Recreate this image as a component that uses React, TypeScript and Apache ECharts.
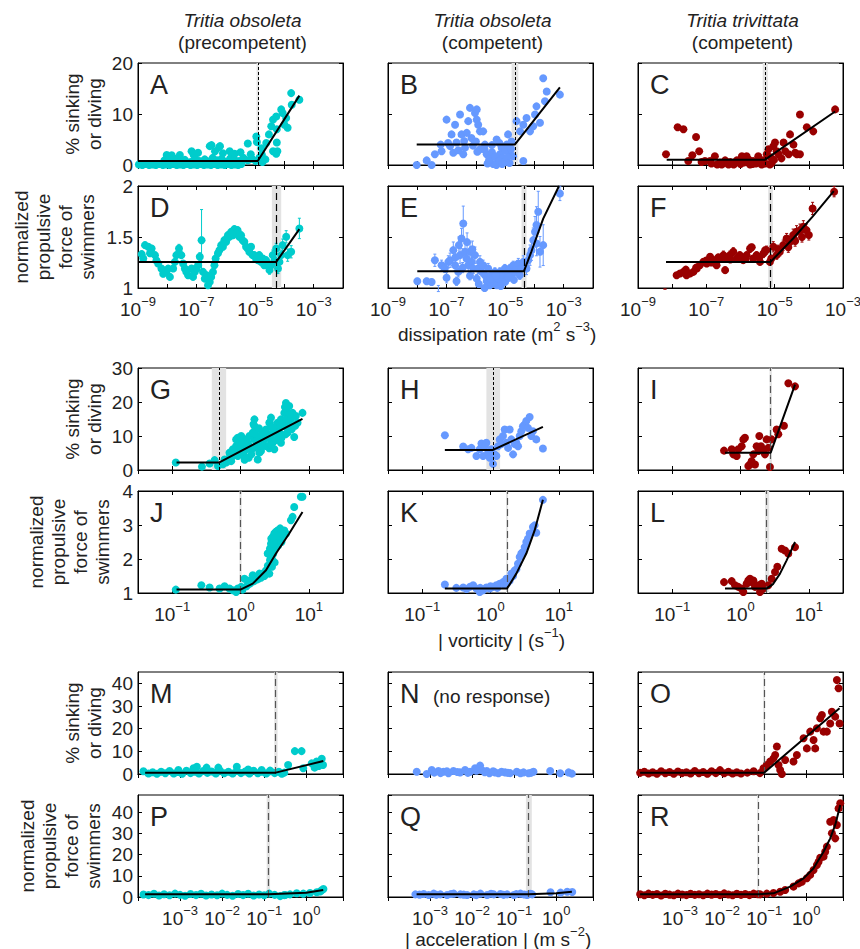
import React, { useEffect, useRef } from 'react';
import * as echarts from 'echarts';

// ---------------- text ----------------
const speciesNames = ['Tritia obsoleta', 'Tritia obsoleta', 'Tritia trivittata'];
const stageNames = ['(precompetent)', '(competent)', '(competent)'];
const panelLetters = ['A', 'B', 'C', 'D', 'E', 'F', 'G', 'H', 'I', 'J', 'K', 'L', 'M', 'N', 'O', 'P', 'Q', 'R'];
const sinkTitle = '% sinking\nor diving';
const forceTitle = 'normalized\npropulsive\nforce of\nswimmers';
const dissTickExp = [-9, -7, -5, -3];
const vortTickExp = [-1, 0, 1];
const accTickExp = [-3, -2, -1, 0];

// ---------------- data: [log10(x), y] or [log10(x), y, errorHalfWidth] ----------------
// Row 1: dissipation rate vs % sinking or diving
const ptsA = [
  [-8.97, 0.1], [-8.85, 0], [-8.74, 0.2], [-8.62, 0], [-8.5, 0.1], [-8.39, 0], [-8.27, 0.2], [-8.15, 0], [-8.03, 0.1], [-7.92, 0], [-7.8, 0.2], [-7.68, 0], [-7.57, 0.1], [-7.45, 0], [-7.33, 0.2], [-7.21, 0], [-7.1, 0.1], [-6.98, 0], [-6.86, 0.2], [-6.75, 0], [-6.63, 0.1], [-6.51, 0], [-6.4, 0.2], [-6.28, 0], [-6.16, 0.1], [-6.04, 0], [-5.93, 0.2], [-5.81, 0], [-5.69, 0.1], [-5.58, 0], [-5.47, 0.2],
  [-8.1, 0.9], [-7.9, 0.7], [-7.75, 1.2], [-7.55, 0.8], [-7.4, 1.0], [-7.2, 0.6], [-7.05, 1.3], [-6.9, 0.8], [-6.72, 1.1], [-6.6, 0.7], [-6.45, 1.4], [-6.3, 0.9], [-6.15, 1.2], [-6.0, 0.7], [-5.85, 1.3], [-5.7, 1.0], [-5.55, 0.8], [-5.4, 1.4], [-5.25, 0.9], [-5.1, 1.2], [-4.98, 0.8], [-4.85, 1.5], [-4.75, 0.6], [-4.65, 1.1],
  [-8.02, 1.95], [-7.85, 1.9], [-7.57, 1.95], [-7.17, 2.7], [-7.1, 2.0], [-6.95, 2.4], [-6.55, 3.7], [-6.49, 3.9], [-6.37, 2.7], [-6.23, 3.5], [-6.2, 3.7], [-6.1, 2.3], [-5.87, 2.7], [-5.7, 2.2], [-5.5, 2.5], [-5.25, 4.2], [-5.15, 2.1], [-4.96, 5.6], [-4.94, 4.5], [-4.79, 3.3], [-4.77, 2.0], [-4.62, 4.3], [-4.53, 6.0], [-4.45, 7.6], [-4.39, 8.9], [-4.39, 2.7], [-4.28, 9.5], [-4.28, 2.2], [-4.26, 4.4], [-4.26, 7.0], [-4.24, 2.7], [-4.11, 10.9], [-4.06, 10.2], [-4.0, 7.9], [-3.94, 9.2], [-3.89, 7.3], [-3.77, 14.1], [-3.75, 11.8], [-3.49, 12.8],
];
const fitA = [[-9, 0.8], [-4.91, 0.8], [-3.49, 13.6]];
const thrA = [-4.95, -4.91, -4.87];

const ptsB = [
  [-8.02, 0], [-7.68, 0.9], [-7.51, 0], [-7.4, 2.1], [-7.17, 2.7], [-7.0, 8.9], [-6.88, 3.7], [-6.83, 6.0], [-6.77, 2.4], [-6.71, 7.9], [-6.66, 4.4], [-6.54, 9.9], [-6.49, 6.0], [-6.43, 2.1], [-6.37, 3.4], [-6.31, 6.3], [-6.26, 8.6], [-6.2, 11.2], [-6.15, 5.3], [-6.03, 10.2], [-5.97, 10.9], [-5.97, 8.9], [-5.92, 7.9], [-5.86, 6.6], [-5.86, 3.1], [-5.75, 6.6], [-5.69, 4.0], [-5.63, 2.1], [-5.52, 1.4], [-5.41, 0.2], [-5.29, 5.0], [-5.24, 0.5], [-5.18, 2.1], [-5.12, 3.4], [-5.07, 1.4], [-4.95, 4.0], [-4.9, 6.0], [-4.84, 2.7], [-4.78, 4.6], [-4.73, 1.7], [-4.61, 8.6], [-4.49, 6.6], [-4.38, 0.8], [-4.38, 7.9], [-4.27, 9.2], [-4.15, 6.6], [-4.04, 7.6], [-3.98, 9.9], [-3.93, 11.5], [-3.81, 8.3], [-3.64, 12.5], [-3.58, 14.4], [-3.7, 17.0], [-3.13, 13.8],
  [-5.6, 0.3], [-5.55, 1.0], [-5.45, 2.5], [-5.35, 1.6], [-5.3, 0.0], [-5.2, 0.8], [-5.1, 0.2], [-5.0, 2.8], [-5.0, 0.6], [-4.92, 1.5], [-4.85, 0.4], [-4.8, 3.2], [-5.7, 3.0], [-5.95, 2.6], [-6.1, 3.8], [-6.6, 2.9], [-6.95, 4.3], [-7.2, 4.0], [-6.4, 4.7], [-6.0, 4.6], [-5.45, 3.9], [-5.2, 4.3],
];
const fitB = [[-8.02, 4.0], [-4.67, 4.0], [-3.13, 15.2]];
const thrB = [-4.78, -4.67, -4.55];

const ptsC = [
  [-8.18, 2.1], [-7.84, 7.4], [-7.67, 7.0], [-7.53, 0.8], [-7.41, 1.9], [-7.3, 5.5], [-7.21, 2.7], [-7.14, 0.6], [-7.04, 0.8], [-6.89, 0.8], [-6.75, 1.7], [-6.68, 0.1], [-6.55, 0.1], [-6.45, 0.9], [-6.35, 0.1], [-6.3, 0.6], [-6.2, 0.1], [-6.11, 0.9], [-5.96, 1.7], [-5.86, 0.8], [-5.82, 1.7], [-5.72, 0.1], [-5.63, 0.8], [-5.48, 1.7], [-5.38, 0.1], [-5.33, 0.9], [-5.23, 2.1], [-5.18, 3.1], [-5.14, 0.1], [-5.09, 0.4], [-5.04, 3.7], [-4.99, 4.4], [-4.94, 2.7], [-4.89, 2.1], [-4.74, 4.4], [-4.69, 2.7], [-4.59, 2.1], [-4.55, 6.0], [-4.45, 4.0], [-4.4, 2.4], [-4.35, 2.1], [-4.26, 9.9], [-4.26, 2.1], [-4.06, 7.4], [-3.87, 6.6], [-3.23, 10.9],
  [-6.6, 0.5], [-6.0, 0.2], [-5.9, 0.5], [-5.55, 0.3], [-5.42, 0.6], [-5.28, 0.3], [-6.85, 0.3], [-5.75, 1.0], [-5.65, 0.2], [-5.02, 1.0], [-5.12, 1.5], [-4.8, 1.3],
];
const fitC = [[-8.16, 1.05], [-5.28, 1.05], [-3.23, 10.5]];
const thrC = [-5.35, -5.28, -5.2];

// Row 2: dissipation rate vs normalized propulsive force (with error bars)
const ptsD = [
  [-8.875, 1.332, 0.03], [-8.76, 1.42, 0.03], [-8.65, 1.404, 0.03], [-8.535, 1.388, 0.03], [-8.42, 1.322, 0.03], [-8.31, 1.24, 0.03], [-8.2, 1.191, 0.03], [-8.03, 1.158, 0.03], [-7.91, 1.109, 0.03], [-7.8, 1.191, 0.03], [-7.69, 1.322, 0.03], [-7.6, 1.388, 0.04], [-7.52, 1.322, 0.03], [-7.4, 1.191, 0.03], [-7.29, 1.125, 0.03], [-7.17, 1.191, 0.03], [-7.06, 1.158, 0.03], [-6.95, 1.223, 0.03], [-6.89, 1.306, 0.04], [-6.83, 1.469, 0.3], [-6.72, 1.092, 0.03], [-6.61, 1.027, 0.03], [-6.55, 1.06, 0.03], [-6.44, 1.158, 0.03], [-6.35, 1.29, 0.03], [-6.27, 1.34, 0.03], [-6.16, 1.42, 0.03], [-6.05, 1.469, 0.03], [-5.93, 1.518, 0.03], [-5.82, 1.55, 0.03], [-5.71, 1.577, 0.03], [-5.6, 1.567, 0.03], [-5.48, 1.518, 0.03], [-5.37, 1.453, 0.03], [-5.25, 1.388, 0.03], [-5.14, 1.404, 0.03], [-5.03, 1.322, 0.03], [-4.91, 1.273, 0.03], [-4.8, 1.256, 0.03], [-4.69, 1.223, 0.03], [-4.57, 1.24, 0.04], [-4.51, 1.175, 0.04], [-4.4, 1.322, 0.05], [-4.28, 1.388, 0.05], [-4.22, 1.191, 0.05], [-4.11, 1.322, 0.05], [-4.06, 1.42, 0.06], [-3.94, 1.502, 0.06], [-3.89, 1.322, 0.06], [-3.77, 1.355, 0.06], [-3.49, 1.584, 0.1],
  [-8.82, 1.29, 0.03], [-8.59, 1.34, 0.03], [-8.37, 1.27, 0.03], [-8.14, 1.14, 0.03], [-7.97, 1.19, 0.03], [-7.74, 1.256, 0.03], [-7.46, 1.24, 0.03], [-7.35, 1.158, 0.03], [-7.12, 1.109, 0.03], [-7.0, 1.191, 0.03], [-6.78, 1.158, 0.03], [-6.66, 1.125, 0.03], [-6.5, 1.109, 0.03], [-6.39, 1.223, 0.03], [-6.22, 1.37, 0.03], [-6.1, 1.404, 0.03], [-5.99, 1.453, 0.03], [-5.88, 1.502, 0.03], [-5.76, 1.518, 0.03], [-5.65, 1.535, 0.03], [-5.54, 1.502, 0.03], [-5.43, 1.469, 0.03], [-5.31, 1.404, 0.03], [-5.2, 1.355, 0.03], [-5.09, 1.322, 0.03], [-4.97, 1.29, 0.03], [-4.86, 1.322, 0.03], [-4.74, 1.29, 0.03], [-4.63, 1.273, 0.03], [-4.45, 1.223, 0.04], [-4.34, 1.273, 0.04], [-4.17, 1.256, 0.05],
];
const fitD = [[-9, 1.256], [-4.28, 1.256], [-3.49, 1.577]];
const thrD = [-4.43, -4.28, -4.11];

const ptsE = [
  [-8.0, 1.066, 0.03], [-7.68, 1.066, 0.03], [-7.51, 1.059, 0.03], [-7.4, 1.272, 0.06], [-7.28, 0.995, 0.03], [-7.17, 1.223, 0.05], [-7.06, 1.191, 0.04], [-6.94, 1.256, 0.06], [-6.88, 1.272, 0.07], [-6.77, 1.371, 0.08], [-6.71, 1.223, 0.05], [-6.66, 1.066, 0.04], [-6.6, 1.158, 0.05], [-6.54, 1.322, 0.08], [-6.49, 1.485, 0.1], [-6.43, 1.633, 0.17], [-6.37, 1.355, 0.08], [-6.32, 1.29, 0.07], [-6.26, 1.223, 0.06], [-6.2, 1.355, 0.09], [-6.14, 1.256, 0.06], [-6.09, 1.191, 0.05], [-6.03, 1.322, 0.08], [-5.97, 1.092, 0.04], [-5.92, 1.191, 0.05], [-5.86, 1.256, 0.06], [-5.8, 1.158, 0.04], [-5.75, 1.223, 0.05], [-5.69, 1.125, 0.04], [-5.63, 1.066, 0.04], [-5.58, 1.191, 0.05], [-5.52, 1.027, 0.03], [-5.46, 1.125, 0.04], [-5.41, 1.066, 0.03], [-5.35, 1.158, 0.04], [-5.29, 1.027, 0.03], [-5.24, 1.092, 0.03], [-5.18, 1.158, 0.04], [-5.12, 1.066, 0.03], [-5.07, 1.125, 0.03], [-5.01, 1.191, 0.04], [-4.95, 1.092, 0.03], [-4.89, 1.158, 0.03], [-4.84, 1.191, 0.04], [-4.78, 1.125, 0.03], [-4.72, 1.223, 0.04], [-4.67, 1.158, 0.03], [-4.61, 1.191, 0.04], [-4.55, 1.24, 0.05], [-4.5, 1.125, 0.04], [-4.44, 1.191, 0.05], [-4.38, 1.256, 0.06], [-4.27, 1.191, 0.06], [-4.21, 1.272, 0.08], [-4.15, 1.322, 0.1], [-4.1, 1.371, 0.1], [-4.04, 1.469, 0.12], [-3.98, 1.551, 0.15], [-3.93, 1.617, 0.18], [-3.87, 1.748, 0.2], [-3.93, 1.436, 0.12], [-3.81, 1.355, 0.15], [-3.7, 1.42, 0.2], [-3.13, 1.927, 0.07],
  [-5.9, 1.04, 0.03], [-5.7, 1.0, 0.03], [-5.5, 1.09, 0.03], [-5.32, 1.12, 0.03], [-5.15, 1.02, 0.03], [-5.0, 1.06, 0.03], [-4.88, 1.1, 0.03], [-4.7, 1.08, 0.03], [-6.2, 1.12, 0.04], [-6.45, 1.2, 0.05], [-6.7, 1.3, 0.06], [-6.58, 1.42, 0.08], [-6.3, 1.45, 0.09], [-6.12, 1.38, 0.08], [-7.0, 1.1, 0.05],
];
const fitE = [[-8.0, 1.164], [-4.36, 1.164], [-4.1, 1.36], [-3.7, 1.68], [-3.16, 2.0]];
const thrE = [-4.44, -4.36, -4.27];

const ptsF = [
  [-8.21, 0.99, 0.0], [-7.87, 1.125, 0.02], [-7.77, 1.142, 0.02], [-7.67, 1.158, 0.02], [-7.58, 1.125, 0.02], [-7.48, 1.142, 0.02], [-7.38, 1.158, 0.02], [-7.28, 1.191, 0.02], [-7.19, 1.223, 0.03], [-7.09, 1.256, 0.03], [-6.99, 1.24, 0.03], [-6.89, 1.306, 0.03], [-6.79, 1.273, 0.03], [-6.7, 1.223, 0.03], [-6.6, 1.29, 0.03], [-6.5, 1.322, 0.04], [-6.45, 1.175, 0.03], [-6.41, 1.29, 0.03], [-6.31, 1.322, 0.04], [-6.21, 1.355, 0.04], [-6.11, 1.29, 0.03], [-6.02, 1.322, 0.03], [-5.92, 1.273, 0.03], [-5.82, 1.322, 0.03], [-5.72, 1.388, 0.04], [-5.63, 1.29, 0.03], [-5.53, 1.322, 0.03], [-5.43, 1.256, 0.03], [-5.33, 1.338, 0.04], [-5.24, 1.371, 0.04], [-5.14, 1.256, 0.03], [-5.04, 1.404, 0.05], [-4.94, 1.322, 0.04], [-4.85, 1.355, 0.04], [-4.75, 1.42, 0.05], [-4.65, 1.485, 0.05], [-4.55, 1.453, 0.05], [-4.46, 1.518, 0.06], [-4.36, 1.551, 0.06], [-4.26, 1.567, 0.06], [-4.16, 1.6, 0.06], [-4.07, 1.567, 0.06], [-3.89, 1.78, 0.06], [-3.26, 1.944, 0.05],
  [-7.6, 1.18, 0.02], [-7.3, 1.2, 0.02], [-7.0, 1.27, 0.03], [-6.85, 1.25, 0.03], [-6.65, 1.3, 0.03], [-6.3, 1.28, 0.03], [-6.05, 1.3, 0.03], [-5.85, 1.29, 0.03], [-5.67, 1.4, 0.03], [-5.45, 1.3, 0.03], [-5.28, 1.37, 0.03], [-5.1, 1.29, 0.03], [-4.9, 1.38, 0.04], [-4.6, 1.4, 0.05], [-4.4, 1.46, 0.05], [-4.2, 1.5, 0.05], [-4.0, 1.52, 0.05],
];
const fitF = [[-8.18, 1.256], [-5.12, 1.256], [-4.46, 1.485], [-3.89, 1.7], [-3.27, 1.95]];
const thrF = [-5.19, -5.12, -5.05];

// Row 3: vorticity vs % sinking or diving
const ptsG = [
  [-0.947, 2.2], [-0.564, 1.0], [-0.452, 1.9], [-0.379, 2.9], [-0.33, 1.2],
  [-0.258, 1.7], [-0.233, 3.1], [-0.209, 2.2], [-0.161, 3.6], [-0.161, 5.1], [-0.136, 2.6], [-0.112, 4.1], [-0.112, 6.1], [-0.088, 5.1], [-0.064, 7.05], [-0.064, 9.0], [-0.039, 9.5], [-0.039, 4.1], [-0.015, 8.0], [-0.015, 6.1], [0.01, 10.0], [0.01, 5.1], [0.034, 9.0], [0.034, 7.05], [0.058, 4.1], [0.082, 6.1], [0.082, 9.0], [0.107, 8.0], [0.131, 7.05], [0.131, 10.0], [0.155, 6.1], [0.179, 11.0], [0.204, 14.9], [0.204, 12.9], [0.204, 9.0], [0.228, 11.9], [0.228, 7.05], [0.252, 10.0], [0.276, 5.1], [0.276, 9.0], [0.301, 8.0], [0.325, 11.0], [0.349, 9.0], [0.373, 7.05], [0.373, 11.9], [0.398, 10.0], [0.422, 13.9], [0.446, 15.4], [0.446, 12.9], [0.446, 9.0], [0.471, 11.0], [0.471, 8.0], [0.495, 6.1], [0.519, 11.9], [0.544, 13.9], [0.544, 9.0], [0.568, 11.0], [0.592, 14.9], [0.592, 8.0], [0.616, 12.9], [0.641, 16.8], [0.665, 19.7], [0.665, 17.8], [0.665, 13.9], [0.689, 15.9], [0.689, 11.0], [0.713, 18.8], [0.713, 12.9], [0.738, 14.9], [0.762, 16.8], [0.786, 9.7], [0.81, 15.9], [0.835, 13.9], [0.907, 16.8],
  [0.06, 3.0], [0.12, 3.6], [0.16, 4.6], [0.252, 3.1], [0.3, 5.6], [0.42, 6.4],
  [0.0, 7.0], [0.02, 5.5], [0.04, 8.2], [0.2, 6.5], [0.21, 10.5], [0.19, 13.5], [0.23, 8.5], [0.44, 7.5], [0.45, 10.5], [0.43, 14.0], [0.47, 12.5], [0.66, 10.5], [0.67, 15.0], [0.65, 18.5], [0.68, 12.5], [0.55, 10.0], [0.6, 9.5], [0.75, 12.0], [0.8, 13.0], [0.32, 7.0], [0.35, 10.5], [0.1, 6.8], [0.27, 12.3], [0.52, 8.8], [0.72, 16.5], [0.58, 13.0],
];
const fitG = [[-0.936, 2.2], [-0.316, 2.2], [0.907, 15.05]];
const thrG = [-0.42, -0.316, -0.21];

const ptsH = [
  [-0.668, 10.2], [-0.4, 6.9], [-0.327, 6.1], [-0.279, 6.5], [-0.206, 4.1], [-0.157, 6.1], [-0.133, 7.8], [-0.108, 4.1], [-0.084, 7.0], [-0.06, 8.0], [-0.035, 5.1], [-0.011, 3.6], [0.013, 6.1], [0.037, 1.8], [0.062, 4.6], [0.086, 4.1], [0.11, 7.0], [0.135, 9.0], [0.159, 7.6], [0.183, 10.0], [0.208, 11.9], [0.232, 8.0], [0.257, 6.5], [0.281, 11.9], [0.305, 9.0], [0.33, 4.6], [0.354, 7.6], [0.378, 8.0], [0.403, 7.0], [0.427, 10.0], [0.451, 11.4], [0.475, 12.9], [0.5, 13.4], [0.524, 14.4], [0.548, 12.4], [0.573, 15.6], [0.597, 10.0], [0.621, 11.4], [0.67, 9.0], [0.767, 6.3],
];
const fitH = [[-0.668, 5.9], [0.037, 5.9], [0.767, 12.7]];
const thrH = [-0.06, 0.037, 0.14];

const ptsI = [
  [-0.241, 5.7], [-0.129, 6.1], [-0.105, 4.6], [-0.056, 4.1], [-0.032, 6.1], [0.017, 7.0], [0.041, 9.0], [0.065, 9.5], [0.114, 1.2], [0.139, 1.6], [0.163, 2.6], [0.188, 4.6], [0.212, 1.6], [0.236, 7.0], [0.261, 5.6], [0.275, 10.0], [0.3, 7.0], [0.334, 6.1], [0.358, 4.6], [0.383, 9.0], [0.407, 6.5], [0.431, 0.9], [0.456, 9.0], [0.529, 11.9], [0.553, 10.5], [0.636, 13.0], [0.7, 25.5], [0.798, 24.6],
];
const fitI = [[-0.227, 5.1], [0.442, 5.1], [0.798, 25.1]];
const thrI = [0.425, 0.442, 0.46];

// Row 4: vorticity vs normalized propulsive force
const ptsJ = [
  [-0.947, 1.1], [-0.573, 1.23], [-0.452, 1.16], [-0.306, 1.13], [-0.233, 1.2], [-0.161, 1.13], [-0.112, 1.08], [-0.064, 1.03], [-0.039, 1.13], [0.01, 1.18], [0.058, 1.42], [0.107, 1.37], [0.131, 1.27], [0.179, 1.52], [0.228, 1.47], [0.276, 1.57], [0.325, 1.57], [0.373, 1.66], [0.398, 2.16], [0.422, 1.57], [0.432, 1.96], [0.446, 2.45], [0.461, 1.77], [0.471, 2.65], [0.48, 2.16], [0.495, 2.75], [0.519, 2.55], [0.544, 2.84], [0.568, 2.75], [0.592, 2.65], [0.616, 2.79], [0.641, 2.84], [0.665, 2.75], [0.738, 3.14], [0.762, 3.24], [0.786, 3.53], [0.883, 3.83], [0.907, 3.83],
  [0.03, 1.1], [0.09, 1.2], [0.15, 1.3], [0.2, 1.35], [0.25, 1.4], [0.3, 1.45], [0.35, 1.5], [0.44, 2.0], [0.5, 2.3], [0.55, 2.4], [0.6, 2.5],
  [0.42, 1.8], [0.43, 2.3], [0.45, 2.6], [0.46, 2.0], [0.48, 2.45], [0.5, 2.6], [0.52, 2.8], [0.56, 2.65], [0.58, 2.9], [0.62, 2.7], [0.5, 1.9], [0.4, 1.8], [0.36, 1.6], [0.3, 1.5],
];
const fitJ = [[-0.936, 1.1], [0.0, 1.1], [0.179, 1.275], [0.373, 1.67], [0.519, 2.16], [0.713, 2.75], [0.907, 3.38]];
const thrJ = [-0.015, 0.0, 0.015];

const ptsK = [
  [-0.668, 1.25], [-0.4, 1.16], [-0.303, 1.18], [-0.254, 1.23], [-0.206, 1.13], [-0.157, 1.03], [-0.108, 1.08], [-0.06, 1.16], [-0.011, 1.13], [0.037, 1.18], [0.086, 1.23], [0.135, 1.27], [0.183, 1.32], [0.232, 1.42], [0.281, 1.37], [0.305, 1.57], [0.354, 1.66], [0.402, 1.86], [0.427, 2.06], [0.451, 2.16], [0.5, 2.35], [0.524, 2.5], [0.548, 2.6], [0.573, 2.75], [0.621, 2.94], [0.646, 2.99], [0.67, 2.77], [0.767, 3.74],
  [-0.5, 1.15], [-0.35, 1.12], [-0.15, 1.15], [0.0, 1.2], [0.1, 1.15], [0.2, 1.25], [0.25, 1.3], [0.33, 1.5], [0.38, 1.7], [0.47, 2.2],
];
const fitK = [[-0.668, 1.13], [0.242, 1.13], [0.378, 1.57], [0.524, 2.16], [0.646, 2.84], [0.767, 3.74]];
const thrK = [0.228, 0.242, 0.256];

const ptsL = [
  [-0.241, 1.32], [-0.129, 1.35], [-0.08, 1.23], [-0.032, 1.18], [0.017, 1.13], [0.041, 1.03], [0.09, 1.27], [0.114, 1.37], [0.139, 1.42], [0.163, 1.32], [0.188, 1.37], [0.212, 1.18], [0.261, 1.23], [0.285, 1.03], [0.31, 1.27], [0.334, 1.13], [0.407, 1.23], [0.456, 1.42], [0.505, 1.62], [0.539, 1.77], [0.602, 2.3], [0.651, 2.25], [0.7, 2.16], [0.798, 2.35],
];
const fitL = [[-0.227, 1.13], [0.383, 1.13], [0.48, 1.27], [0.578, 1.57], [0.675, 1.96], [0.798, 2.5]];
const thrL = [0.36, 0.383, 0.42];

// Row 5: acceleration vs % sinking or diving
const ptsM = [
  [-3.87, 1.2], [-3.75, 0.2], [-3.65, 0.8], [-3.55, 0.1], [-3.45, 1.0], [-3.35, 0.3], [-3.25, 1.3], [-3.15, 0.2], [-3.05, 0.9], [-2.95, 0.1], [-2.85, 1.4], [-2.75, 0.4], [-2.65, 1.0], [-2.55, 0.2], [-2.45, 1.3], [-2.35, 0.5], [-2.25, 1.1], [-2.15, 0.2], [-2.05, 1.4], [-1.95, 0.3], [-1.85, 1.0], [-1.75, 0.2], [-1.65, 1.3], [-1.55, 0.4], [-1.45, 1.1], [-1.35, 0.2], [-1.25, 1.4], [-1.15, 0.3], [-1.05, 1.0], [-0.95, 0.2], [-0.85, 1.2], [-0.75, 0.4], [-0.65, 1.0], [-0.58, 0.1], [-0.52, 0.6],
  [-3.04, 1.8], [-2.68, 2.5], [-2.6, 3.2], [-2.37, 2.8], [-2.09, 2.8], [-1.65, 3.2], [-1.38, 2.0], [-1.06, 1.8], [-0.86, 1.5], [-0.43, 4.0], [-0.27, 10.1], [-0.11, 10.1], [-0.07, 2.5], [0.13, 4.7], [0.25, 5.5], [0.37, 6.7], [0.4, 4.0], [0.3, 3.5], [0.2, 2.8],
];
const fitM = [[-3.83, 0.6], [-0.725, 0.6], [0.407, 5.7]];
const thrM = [-0.76, -0.725, -0.68];

const ptsN = [
  [-3.317, 1.0], [-3.08, 0.0], [-2.96, 1.8], [-2.8, 1.3], [-2.683, 1.0], [-2.563, 0.3], [-2.444, 1.3], [-2.286, 0.7], [-2.167, 1.8], [-2.048, 1.0], [-1.929, 2.5], [-1.81, 3.7], [-1.77, 1.8], [-1.651, 1.3], [-1.587, 0.3], [-1.452, 0.7], [-1.373, 0.3], [-1.214, 0.7], [-1.095, 0.4], [-0.937, 1.0], [-0.778, 0.7], [-0.659, 0.3], [-0.54, 1.0], [-0.143, 1.3], [0.095, 0.3], [0.294, 0.7], [0.373, 0.15],
  [-2.6, 1.2], [-2.35, 0.9], [-2.1, 0.5], [-1.9, 1.4], [-1.7, 0.8], [-1.5, 1.2], [-1.3, 1.0], [-1.15, 0.5], [-0.85, 0.3], [-0.6, 0.5], [-2.9, 0.6], [-2.75, 0.4],
];

const ptsO = [
  [-3.95, 0.5], [-3.85, 1.0], [-3.75, 0.2], [-3.65, 0.8], [-3.55, 0.1], [-3.45, 1.2], [-3.35, 0.3], [-3.25, 0.9], [-3.15, 0.1], [-3.05, 1.1], [-2.95, 0.4], [-2.85, 0.8], [-2.75, 0.2], [-2.65, 1.3], [-2.55, 0.3], [-2.45, 0.9], [-2.35, 0.1], [-2.25, 1.2], [-2.15, 0.4], [-2.05, 1.7], [-1.95, 0.3], [-1.85, 1.0], [-1.75, 0.2], [-1.65, 0.8], [-1.55, 0.2], [-1.4, 0.6], [-1.25, 1.2], [-1.1, 0.4],
  [-1.016, 2.5], [-0.937, 4.0], [-0.857, 5.5], [-0.778, 6.9], [-0.738, 8.4], [-0.698, 12.1], [-0.659, 4.0], [-0.619, 1.8], [-0.579, 0], [-0.5, 6.2], [-0.302, 5.5], [-0.222, 8.4], [-0.063, 15.8], [0.016, 11.3], [0.095, 18.7], [0.175, 15.0], [0.214, 11.3], [0.254, 20.2], [0.333, 24.6], [0.373, 26.0], [0.413, 18.7], [0.492, 18.7], [0.571, 22.3], [0.611, 27.5], [0.69, 25.3], [0.73, 41.5], [0.77, 37.8], [0.794, 22.3],
];
const fitO = [[-3.95, 0.6], [-1.0, 0.6], [0.793, 29.0]];
const thrO = [-1.02, -1.0, -0.98];

// Row 6: acceleration vs normalized propulsive force
const ptsP = [
  [-3.87, 1.2], [-3.75, 0.9], [-3.62, 1.5], [-3.5, 0.7], [-3.38, 1.3], [-3.25, 0.8], [-3.12, 1.6], [-3.0, 1.0], [-2.88, 0.6], [-2.75, 1.4], [-2.62, 0.9], [-2.5, 1.5], [-2.38, 0.7], [-2.25, 1.2], [-2.12, 0.8], [-2.0, 1.6], [-1.88, 1.0], [-1.75, 0.6], [-1.62, 1.4], [-1.5, 0.9], [-1.38, 1.5], [-1.25, 0.7], [-1.12, 1.2], [-1.0, 0.8], [-0.88, 1.6], [-0.75, 1.0], [-0.62, 0.4], [-0.52, 0.9],
  [-0.5, 0.94], [-0.385, 1.25], [-0.226, 1.73], [-0.068, 1.57], [0.09, 1.9], [0.25, 2.2], [0.37, 3.14], [0.41, 3.76], [0.33, 2.6],
];
const fitP = [[-3.83, 1.25], [-0.9, 1.25], [0.0, 1.99], [0.405, 3.3]];
const thrP = [-0.94, -0.9, -0.86];

const ptsQ = [
  [-3.349, 1.25], [-3.151, 1.4], [-3.032, 0.94], [-2.913, 1.57], [-2.754, 1.25], [-2.595, 0.94], [-2.437, 1.57], [-2.278, 1.25], [-2.119, 0.94], [-1.96, 1.25], [-1.802, 1.57], [-1.643, 0.94], [-1.484, 1.25], [-1.325, 1.4], [-1.167, 1.25], [-1.008, 0.94], [-0.849, 1.57], [-0.69, 0.94], [-0.571, 1.25], [-0.135, 2.2], [0.103, 2.04], [0.262, 2.5], [0.381, 2.35],
  [-3.25, 1.1], [-2.85, 1.0], [-2.5, 1.4], [-2.2, 1.1], [-1.9, 0.9], [-1.55, 1.5], [-1.25, 1.0], [-0.95, 1.35], [-0.76, 1.2], [-0.62, 1.5],
];
const fitQ = [[-3.32, 1.25], [-0.66, 1.25], [0.0, 1.71], [0.373, 2.5]];
const thrQ = [-0.72, -0.66, -0.58];

const ptsR = [
  [-3.95, 1.3], [-3.85, 0.8], [-3.75, 1.6], [-3.65, 1.0], [-3.55, 1.4], [-3.45, 0.7], [-3.35, 1.5], [-3.25, 1.1], [-3.15, 0.8], [-3.05, 1.6], [-2.95, 1.2], [-2.85, 0.9], [-2.75, 1.5], [-2.65, 1.0], [-2.55, 1.3], [-2.45, 0.8], [-2.35, 1.6], [-2.25, 1.1], [-2.15, 1.4], [-2.05, 0.9], [-1.95, 1.7], [-1.85, 1.2], [-1.75, 0.8], [-1.65, 1.5], [-1.55, 1.0], [-1.45, 1.4], [-1.35, 0.9], [-1.25, 1.6], [-1.15, 1.3],
  [-1.095, 1.25], [-0.937, 1.6], [-0.778, 1.9], [-0.619, 2.5], [-0.5, 3.3], [-0.302, 4.9], [-0.183, 6.4], [-0.103, 7.2], [0.016, 8.8], [0.095, 10.4], [0.175, 12.7], [0.254, 15.1], [0.294, 16.6], [0.333, 18.5], [0.413, 19.0], [0.452, 21.3], [0.492, 23.7], [0.571, 35.4], [0.611, 30.0], [0.651, 36.2], [0.69, 27.6], [0.73, 33.9], [0.77, 41.7], [0.81, 44.1],
];
const fitR = [[-3.95, 1.25], [-1.15, 1.25], [-0.778, 1.73], [-0.381, 4.86], [-0.063, 8.78], [0.175, 13.5], [0.413, 21.3], [0.571, 27.6], [0.69, 33.9], [0.81, 43.3]];
const thrR = [-1.165, -1.15, -1.135];

// ---------------- styling / layout ----------------
const FONT = '"Liberation Sans", Arial, Helvetica, sans-serif';
const TXT = '#222';
const CYAN = '#00CCCC';
const BLUE = '#6699FF';
const RED = '#990000';
const COL_X = [138, 388, 638];
const ROW_Y = [63, 186, 368, 491, 672, 795];
const PW = 205;
const PH = 102;
const Y_RANGES = [[0, 20, 10], [1, 2, 0.5], [0, 30, 10], [1, 4, 1], [0, 45, 10], [0, 48, 10]];
const DASHES: any = {
  fine: { color: '#000', type: [3, 2], width: 1 },
  long: { color: '#000', type: [7, 4], width: 1.2 },
  gray: { color: '#555', type: [7, 4], width: 1.2 },
};

const panels = [
  { row: 0, col: 0, pts: ptsA, fit: fitA, thr: thrA, color: CYAN, dash: 'fine' },
  { row: 0, col: 1, pts: ptsB, fit: fitB, thr: thrB, color: BLUE, dash: 'fine' },
  { row: 0, col: 2, pts: ptsC, fit: fitC, thr: thrC, color: RED, dash: 'fine' },
  { row: 1, col: 0, pts: ptsD, fit: fitD, thr: thrD, color: CYAN, dash: 'long', err: true },
  { row: 1, col: 1, pts: ptsE, fit: fitE, thr: thrE, color: BLUE, dash: 'long', err: true },
  { row: 1, col: 2, pts: ptsF, fit: fitF, thr: thrF, color: RED, dash: 'long', err: true },
  { row: 2, col: 0, pts: ptsG, fit: fitG, thr: thrG, color: CYAN, dash: 'fine' },
  { row: 2, col: 1, pts: ptsH, fit: fitH, thr: thrH, color: BLUE, dash: 'fine' },
  { row: 2, col: 2, pts: ptsI, fit: fitI, thr: thrI, color: RED, dash: 'gray' },
  { row: 3, col: 0, pts: ptsJ, fit: fitJ, thr: thrJ, color: CYAN, dash: 'gray' },
  { row: 3, col: 1, pts: ptsK, fit: fitK, thr: thrK, color: BLUE, dash: 'gray' },
  { row: 3, col: 2, pts: ptsL, fit: fitL, thr: thrL, color: RED, dash: 'gray' },
  { row: 4, col: 0, pts: ptsM, fit: fitM, thr: thrM, color: CYAN, dash: 'gray' },
  { row: 4, col: 1, pts: ptsN, fit: null, thr: null, color: BLUE, dash: 'gray' },
  { row: 4, col: 2, pts: ptsO, fit: fitO, thr: thrO, color: RED, dash: 'gray' },
  { row: 5, col: 0, pts: ptsP, fit: fitP, thr: thrP, color: CYAN, dash: 'gray' },
  { row: 5, col: 1, pts: ptsQ, fit: fitQ, thr: thrQ, color: BLUE, dash: 'gray' },
  { row: 5, col: 2, pts: ptsR, fit: fitR, thr: thrR, color: RED, dash: 'gray' },
];

// superscript: raised by padding, but with a line height that does not grow the text block
const supRich = { sup: { fontSize: 13, padding: [0, 0, 16, 0], lineHeight: 19, fontFamily: FONT, color: TXT, fill: TXT } };

function xRange(row: number, col: number) {
  const g = Math.floor(row / 2);
  if (g === 0) return col === 2 ? [1e-9, 1e-3] : [1e-9, 1e-2];
  if (g === 1) return [Math.pow(10, -1.5), Math.pow(10, 1.5)];
  return [1e-4, 7.5];
}

function xFormatter(row: number) {
  const g = Math.floor(row / 2);
  const list = g === 0 ? dissTickExp : g === 1 ? vortTickExp : accTickExp;
  return (v: number) => {
    const e = Math.log10(v);
    const r = Math.round(e);
    if (Math.abs(e - r) > 1e-6) return '';
    if (list.indexOf(r) < 0) return '';
    const s = r < 0 ? '\u2212' + -r : String(r);
    return '10{sup|' + s + '}';
  };
}

const toXY = (arr: number[][]) => arr.map((p) => [Math.pow(10, p[0]), p[1]]);

function buildOption() {
  const grid: any[] = [];
  const xAxis: any[] = [];
  const yAxis: any[] = [];
  const series: any[] = [];
  const graphic: any[] = [];

  panels.forEach((p, i) => {
    const [xmin, xmax] = xRange(p.row, p.col);
    const [ymin, ymax, yint] = Y_RANGES[p.row];
    const showX = p.row % 2 === 1;
    const showY = p.col === 0;
    grid.push({
      left: COL_X[p.col], top: ROW_Y[p.row], width: PW, height: PH,
      show: true, borderColor: '#000', borderWidth: 1, backgroundColor: 'rgba(0,0,0,0)',
      containLabel: false, outerBoundsMode: 'none',
    });
    ['bottom', 'top'].forEach((pos, k) => {
      xAxis.push({
        type: 'log', logBase: 10, gridIndex: i, position: pos, min: xmin, max: xmax,
        axisLine: { show: true, lineStyle: { color: '#000', width: 1 } },
        axisTick: { show: true, inside: true, length: 4, lineStyle: { color: '#000', width: 1 } },
        axisLabel: {
          show: k === 0 && showX, formatter: xFormatter(p.row), fontSize: 19, fontFamily: FONT,
          color: TXT, margin: 12, rich: supRich, hideOverlap: false,
        },
        splitLine: { show: false }, minorTick: { show: false }, minorSplitLine: { show: false },
      });
    });
    ['left', 'right'].forEach((pos, k) => {
      yAxis.push({
        type: 'value', gridIndex: i, position: pos, min: ymin, max: ymax, interval: yint,
        axisLine: { show: true, lineStyle: { color: '#000', width: 1 } },
        axisTick: { show: true, inside: true, length: 4, lineStyle: { color: '#000', width: 1 } },
        axisLabel: {
          show: k === 0 && showY, fontSize: 19, fontFamily: FONT, color: TXT, margin: 5,
          showMaxLabel: p.row >= 4 ? false : null, hideOverlap: false,
        },
        splitLine: { show: false },
      });
    });
    const xi = i * 2;
    const yi = i * 2;
    if (p.thr) {
      // grey uncertainty band of the threshold
      series.push({
        type: 'line', xAxisIndex: xi, yAxisIndex: yi, data: [], z: 1, silent: true, animation: false,
        markArea: {
          silent: true, itemStyle: { color: '#E3E3E3', borderWidth: 0, opacity: 1 },
          data: [[{ xAxis: Math.pow(10, p.thr[0]) }, { xAxis: Math.pow(10, p.thr[2]) }]],
        },
      });
      // dashed threshold line (precision kept high: the values are tiny on the dissipation axes)
      series.push({
        type: 'line', xAxisIndex: xi, yAxisIndex: yi, data: [], z: 2, silent: true, animation: false,
        markLine: {
          silent: true, symbol: ['none', 'none'], label: { show: false }, animation: false, precision: 20,
          lineStyle: DASHES[p.dash], emphasis: { disabled: true },
          data: [{ xAxis: Math.pow(10, p.thr[1]) }],
        },
      });
    }
    if (p.err) {
      const col = p.color;
      series.push({
        type: 'custom', xAxisIndex: xi, yAxisIndex: yi, z: 3, silent: true, animation: false,
        data: p.pts.map((q) => [Math.pow(10, q[0]), q[1] - q[2], q[1] + q[2]]),
        encode: { x: 0, y: [1, 2] },
        renderItem: (params: any, api: any) => {
          const x = api.value(0);
          const lo = api.coord([x, api.value(1)]);
          const hi = api.coord([x, api.value(2)]);
          const st = { stroke: col, lineWidth: 1 };
          return {
            type: 'group',
            children: [
              { type: 'line', shape: { x1: lo[0], y1: lo[1], x2: hi[0], y2: hi[1] }, style: st },
              { type: 'line', shape: { x1: lo[0] - 1.5, y1: lo[1], x2: lo[0] + 1.5, y2: lo[1] }, style: st },
              { type: 'line', shape: { x1: hi[0] - 1.5, y1: hi[1], x2: hi[0] + 1.5, y2: hi[1] }, style: st },
            ],
          };
        },
      });
    }
    series.push({
      type: 'scatter', xAxisIndex: xi, yAxisIndex: yi, z: 4, silent: true, animation: false,
      symbol: 'circle', symbolSize: 8, itemStyle: { color: p.color, opacity: 1 },
      data: toXY(p.pts),
    });
    if (p.fit) {
      series.push({
        type: 'line', xAxisIndex: xi, yAxisIndex: yi, z: 5, silent: true, animation: false,
        symbol: 'none', showSymbol: false, lineStyle: { color: '#000', width: 2 },
        data: toXY(p.fit),
      });
    }
    graphic.push({
      type: 'text', x: COL_X[p.col] + 12, y: ROW_Y[p.row] + 21.5, z: 10,
      style: { text: panelLetters[i], fontSize: 27, fontFamily: FONT, fill: TXT, align: 'left', verticalAlign: 'middle' },
    });
  });

  [0, 1, 2].forEach((c) => {
    const cx = COL_X[c] + PW / 2 + 2;
    graphic.push({ type: 'text', x: cx, y: 20, style: { text: speciesNames[c], fontSize: 19, fontStyle: 'italic', fontFamily: FONT, fill: TXT, align: 'center', verticalAlign: 'middle' } });
    graphic.push({ type: 'text', x: cx, y: 42, style: { text: stageNames[c], fontSize: 19, fontFamily: FONT, fill: TXT, align: 'center', verticalAlign: 'middle' } });
  });

  const yTitles = [
    { text: sinkTitle, x: 83, row: 0 },
    { text: forceTitle, x: 54, row: 1 },
    { text: sinkTitle, x: 83, row: 2 },
    { text: forceTitle, x: 69, row: 3 },
    { text: sinkTitle, x: 83, row: 4 },
    { text: forceTitle, x: 60, row: 5 },
  ];
  yTitles.forEach((t) => {
    graphic.push({
      type: 'text', x: t.x, y: ROW_Y[t.row] + PH / 2, rotation: Math.PI / 2,
      style: { text: t.text, fontSize: 19, fontFamily: FONT, fill: TXT, align: 'center', verticalAlign: 'middle', lineHeight: 22 },
    });
  });

  const xTitles = [
    { text: 'dissipation rate (m{sup|2} s{sup|\u22123})', x: 398, y: 334 },
    { text: '| vorticity | (s{sup|\u22121})', x: 438, y: 640 },
    { text: '| acceleration | (m s{sup|\u22122})', x: 405, y: 939.5 },
  ];
  xTitles.forEach((t) => {
    graphic.push({
      type: 'text', x: t.x, y: t.y,
      style: { text: t.text, fontSize: 19, fontFamily: FONT, fill: TXT, align: 'left', verticalAlign: 'middle', rich: supRich },
    });
  });

  graphic.push({
    type: 'text', x: 433, y: 696,
    style: { text: '(no response)', fontSize: 19, fontFamily: FONT, fill: TXT, align: 'left', verticalAlign: 'middle' },
  });

  return {
    animation: false,
    backgroundColor: '#fff',
    textStyle: { fontFamily: FONT },
    grid, xAxis, yAxis, series, graphic,
  };
}

export default function App() {
  const ref = useRef<HTMLDivElement>(null);
  useEffect(() => {
    const chart = echarts.init(ref.current as HTMLDivElement, undefined, { renderer: 'svg' });
    chart.setOption(buildOption() as any);
    return () => chart.dispose();
  }, []);
  return (
    <div
      ref={ref}
      style={{ position: 'absolute', left: 0, top: 0, width: 860, height: 949, background: '#fff' }}
    />
  );
}
